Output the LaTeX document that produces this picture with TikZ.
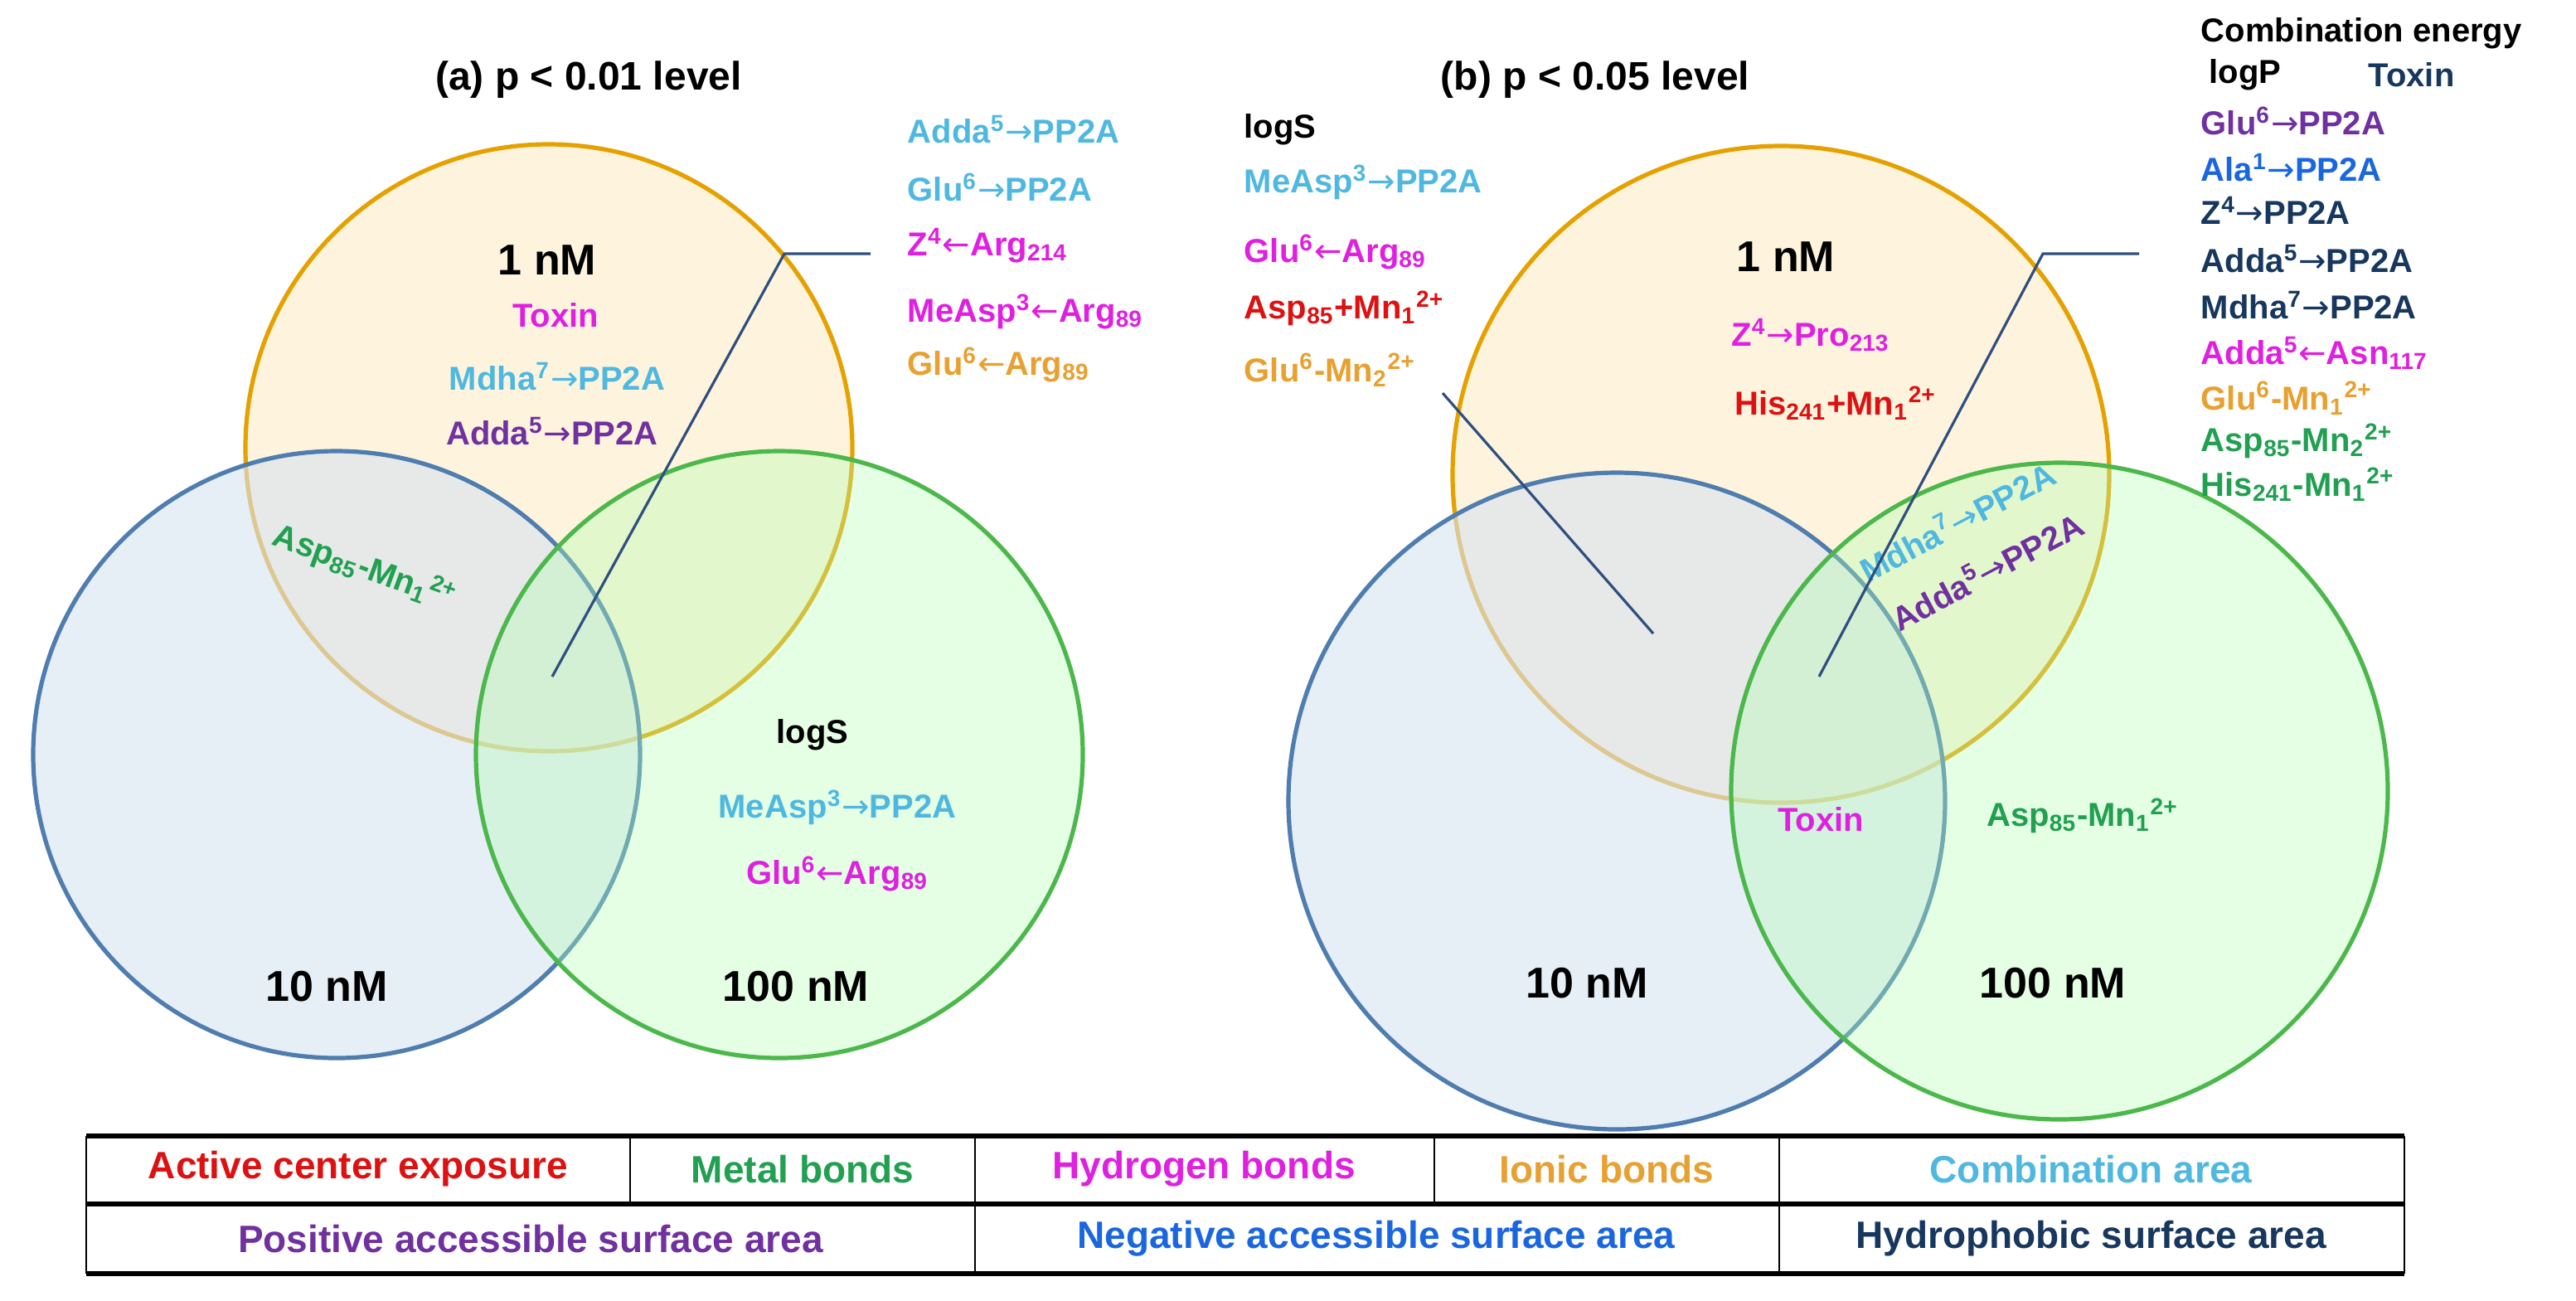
\documentclass[tikz,border=0pt]{standalone}
\usepackage{fontspec}
\setmainfont{Liberation Sans}
\newfontfamily\arrf{DejaVu Sans}
\definecolor{ccyan}{HTML}{4FB8E0}
\definecolor{cmag}{HTML}{E020E0}
\definecolor{cpur}{HTML}{7030A0}
\definecolor{corg}{HTML}{E8A030}
\definecolor{cgrn}{HTML}{20A050}
\definecolor{cred}{HTML}{DD1111}
\definecolor{cblu}{HTML}{1A66E0}
\definecolor{cnav}{HTML}{17375E}
\definecolor{lnc}{HTML}{2F4F7F}
\definecolor{bfill}{HTML}{D6E3F0}
\definecolor{bline}{HTML}{4F7DAF}
\newcommand\up[1]{\textsuperscript{\scriptsize #1}}
\newcommand\dn[1]{\textsubscript{\scriptsize #1}}
\newcommand\ra{{\arrf\mdseries →}}
\newcommand\la{{\arrf\mdseries ←}}
\begin{document}
\begin{tikzpicture}[x=0.5pt,y=-0.5pt,
  t/.style={font=\bfseries\fontsize{10}{12}\selectfont, inner sep=1pt},
  tl/.style={t, anchor=west},
  big/.style={font=\bfseries\fontsize{13}{15}\selectfont, inner sep=1pt},
  ttl/.style={font=\bfseries\fontsize{12}{14}\selectfont, inner sep=1pt},
  leg/.style={font=\bfseries\fontsize{11.5}{14}\selectfont, inner sep=1pt},
  yc/.style={fill=yellow!40!orange!20, fill opacity=0.6, draw=orange!60!yellow!90!black, line width=1.3pt},
  bc/.style={fill=bfill, fill opacity=0.6, draw=bline, line width=1.3pt},
  gc/.style={fill=green!30, fill opacity=0.35, draw=green!60!black!70, line width=1.3pt},
  ln/.style={draw=lnc, line width=0.8pt}]
\useasboundingbox[fill=white] (0,0) rectangle (1553.5,784);
% (a) circles
\path[yc] (331,270) circle[radius=183];
\path[bc] (203,455) circle[radius=183];
\path[gc] (470,455) circle[radius=183];
% (b) circles
\path[yc] (1074,286) circle[radius=198];
\path[bc] (975,483) circle[radius=198];
\path[gc] (1242,477) circle[radius=198];
% (a) texts
\node[ttl] (ta) at (355,48) {(a) p < 0.01 level};
\node[big] (a1) at (330,157) {1 nM};
\node[t,text=cmag] (atox) at (335,190) {Toxin};
\node[t,text=ccyan] (amd) at (336,227) {Mdha\up{7}\ra PP2A};
\node[t,text=cpur] (aad) at (333,260) {Adda\up{5}\ra PP2A};
\node[t,text=cgrn,rotate=-20] (aasp) at (220,342) {Asp\dn{85}-Mn\dn{1}\up{2+}};
\node[t] (alogs) at (490,443) {logS};
\node[t,text=ccyan] (ame) at (505,487) {MeAsp\up{3}\ra PP2A};
\node[t,text=cmag] (aglu) at (505,527) {Glu\up{6}\la Arg\dn{89}};
\node[big] (a10) at (197,595) {10 nM};
\node[big] (a100) at (480,595) {100 nM};
\node[tl,text=ccyan] (r1) at (545,78) {Adda\up{5}\ra PP2A};
\node[tl,text=ccyan] (r2) at (545,113) {Glu\up{6}\ra PP2A};
\node[tl,text=cmag] (r3) at (545,148) {Z\up{4}\la Arg\dn{214}};
\node[tl,text=cmag] (r4) at (545,188) {MeAsp\up{3}\la Arg\dn{89}};
\node[tl,text=corg] (r5) at (545,220) {Glu\up{6}\la Arg\dn{89}};
\coordinate (la0) at (525,153);
\coordinate (la1) at (473,153);
\coordinate (la2) at (333,408);
\draw[ln] (la0) -- (la1) -- (la2);
% (b) texts
\node[ttl] (tb) at (962,48) {(b) p < 0.05 level};
\node[tl] (l1) at (748,78) {logS};
\node[tl,text=ccyan] (l2) at (748,110) {MeAsp\up{3}\ra PP2A};
\node[tl,text=cmag] (l3) at (748,152) {Glu\up{6}\la Arg\dn{89}};
\node[tl,text=cred] (l4) at (748,186) {Asp\dn{85}+Mn\dn{1}\up{2+}};
\node[tl,text=corg] (l5) at (748,223) {Glu\up{6}-Mn\dn{2}\up{2+}};
\coordinate (lb0) at (870,237);
\coordinate (lb1) at (997,382);
\draw[ln] (lb0) -- (lb1);
\node[big] (b1) at (1077,155) {1 nM};
\node[t,text=cmag] (bz) at (1092,202) {Z\up{4}\ra Pro\dn{213}};
\node[t,text=cred] (bh) at (1107,243) {His\dn{241}+Mn\dn{1}\up{2+}};
\node[t,text=ccyan,rotate=28] (bmd) at (1180,314) {Mdha\up{7}\ra PP2A};
\node[t,text=cpur,rotate=28] (bad) at (1198,344) {Adda\up{5}\ra PP2A};
\node[t,text=cmag] (btox) at (1098,494) {Toxin};
\node[t,text=cgrn] (basp) at (1256,492) {Asp\dn{85}-Mn\dn{1}\up{2+}};
\node[big] (b10) at (957,593) {10 nM};
\node[big] (b100) at (1238,593) {100 nM};
\node[tl] (c0) at (1325,20) {Combination energy};
\node[tl] (c1) at (1330,45) {logP};
\node[tl,text=cnav] (c2) at (1426,45) {Toxin};
\node[tl,text=cpur] (c3) at (1325,73) {Glu\up{6}\ra PP2A};
\node[tl,text=cblu] (c4) at (1325,101) {Ala\up{1}\ra PP2A};
\node[tl,text=cnav] (c5) at (1325,127) {Z\up{4}\ra PP2A};
\node[tl,text=cnav] (c6) at (1325,156) {Adda\up{5}\ra PP2A};
\node[tl,text=cnav] (c7) at (1325,184) {Mdha\up{7}\ra PP2A};
\node[tl,text=cmag] (c8) at (1325,213) {Adda\up{5}\la Asn\dn{117}};
\node[tl,text=corg] (c9) at (1325,240) {Glu\up{6}-Mn\dn{1}\up{2+}};
\node[tl,text=cgrn] (c10) at (1325,266) {Asp\dn{85}-Mn\dn{2}\up{2+}};
\node[tl,text=cgrn] (c11) at (1325,292) {His\dn{241}-Mn\dn{1}\up{2+}};
\coordinate (lc0) at (1290,153);
\coordinate (lc1) at (1232,153);
\coordinate (lc2) at (1097,408);
\draw[ln] (lc0) -- (lc1) -- (lc2);
% legend table
\draw[line width=1.6pt] (52,685) -- (1450,685) (52,726) -- (1450,726) (52,768) -- (1450,768);
\draw[line width=0.6pt] (52,685) -- (52,768) (1450,685) -- (1450,768)
  (380,685) -- (380,726) (588,685) -- (588,768) (865,685) -- (865,726) (1073,685) -- (1073,768);
\node[leg,text=cred] (g1) at (216,705) {Active center exposure};
\node[leg,text=cgrn] (g2) at (484,705) {Metal bonds};
\node[leg,text=cmag] (g3) at (726,705) {Hydrogen bonds};
\node[leg,text=corg] (g4) at (969,705) {Ionic bonds};
\node[leg,text=ccyan] (g5) at (1261,705) {Combination area};
\node[leg,text=cpur] (g6) at (320,747) {Positive accessible surface area};
\node[leg,text=cblu] (g7) at (830,747) {Negative accessible surface area};
\node[leg,text=cnav] (g8) at (1261,747) {Hydrophobic surface area};
\end{tikzpicture}
\end{document}
